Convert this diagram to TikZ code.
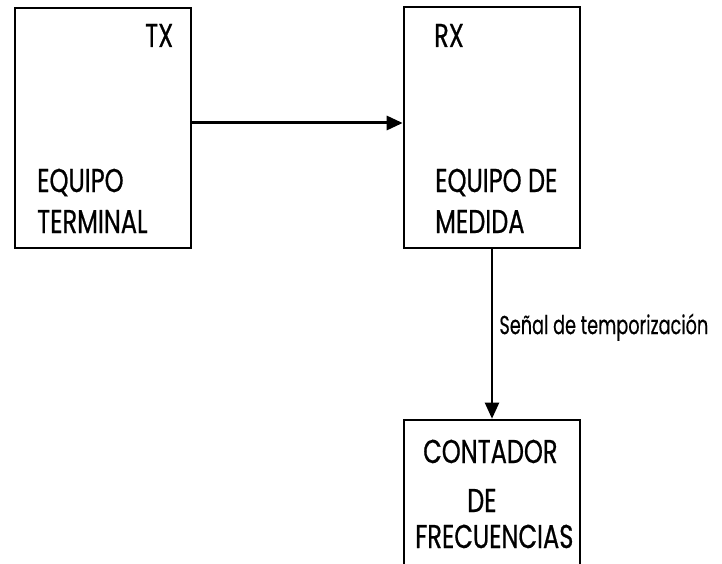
\documentclass[tikz,border=0pt]{standalone}
\usepackage{fontspec}
\setmainfont{Poppins}[FakeStretch=0.73, FakeBold=0.6]
\newfontfamily\etiqueta{Poppins}[FakeStretch=0.68, FakeBold=0.4]
\usepackage{tikz}
\usetikzlibrary{arrows.meta}
\tikzset{%
  flecha/.style={-{Triangle[length=16pt,width=14pt]}, line width=3pt},
  bloque/.style={draw=black, line width=2.6pt, minimum width=176pt, inner sep=0pt},
  rotulo/.style={anchor=base west, inner sep=0pt, font=\fontsize{33}{36}\selectfont}
}

\begin{document}
\begin{tikzpicture}[x=1pt, y=-1pt]
  \useasboundingbox (0,0) rectangle (722,564);
  \clip (0,0) rectangle (722,564);

% bloques
\node [bloque, minimum height=240pt] (TX) at (103,128) {};
\node [bloque, minimum height=241pt] (RX) at (492,127.5) {};
\node [bloque, minimum height=190pt] (CF) at (492,515) {};

% textos
\node [rotulo] (tTX) at (145,47) {TX};
\node [rotulo] (tRX) at (434,47) {RX};
\node [rotulo] (t1) at (37,192) {EQUIPO};
\node [rotulo] (t2) at (37,233) {TERMINAL};
\node [rotulo] (t3) at (435,192) {EQUIPO DE};
\node [rotulo] (t4) at (435,233) {MEDIDA};
\node [rotulo] (t5) at (423,463) {CONTADOR};
\node [rotulo] (t6) at (467,512) {DE};
\node [rotulo] (t7) at (415,548) {FRECUENCIAS};

% flechas
\draw [flecha] (TX.east |- 0,123) -- (RX.west |- 0,123);
\draw [flecha, line width=2.2pt] (RX.south) -- (CF.north)
  node [pos=0.46, right, xshift=3pt, font=\etiqueta\fontsize{26}{28}\selectfont] (senal) {Señal de temporización};

\end{tikzpicture}
\end{document}
